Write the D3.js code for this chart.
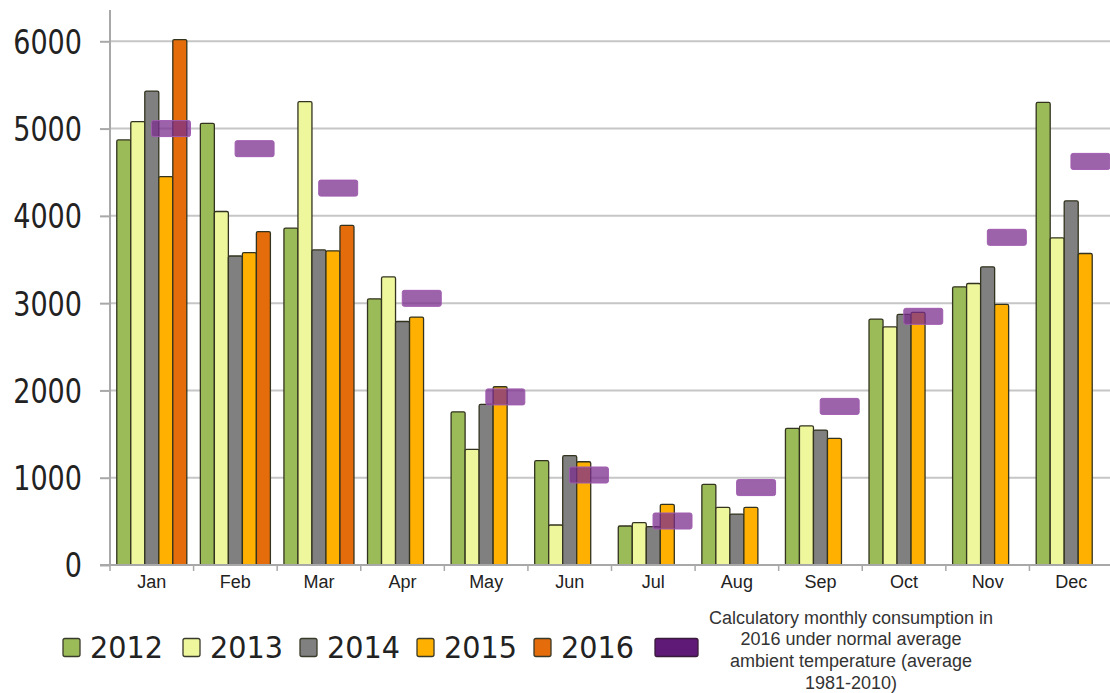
<!DOCTYPE html>
<html>
<head>
<meta charset="utf-8">
<script src="https://cdn.jsdelivr.net/npm/d3@7"></script>
<style>
  body { margin: 0; background: #fff; }
  svg { display: block; }
</style>
</head>
<body>
<div id="chart"></div>
<script>
var width = 1110;
var height = 693;

var months = ["Jan","Feb","Mar","Apr","May","Jun","Jul","Aug","Sep","Oct","Nov","Dec"];
var years = ["2012","2013","2014","2015","2016"];
var yTicks = [0,1000,2000,3000,4000,5000,6000];

var v2012 = [4870,5060,3860,3050,1755,1195,447,924,1565,2817,3187,5300];
var v2013 = [5080,4050,5310,3300,1325,458,485,661,1595,2729,3225,3748];
var v2014 = [5430,3540,3610,2790,1840,1252,440,584,1546,2871,3416,4172];
var v2015 = [4450,3580,3600,2840,2042,1183,695,661,1451,2894,2985,3569];
var v2016 = [6020,3820,3890,null,null,null,null,null,null,null,null,null];
var normal2016 = [5000,4770,4318,3055,1926,1031,504,887,1817,2849,3754,4624];

var legendNote = ["Calculatory monthly consumption in", "2016 under normal average",
                  "ambient temperature (average", "1981-2010)"];

var colors = {"2012":"#9bbb59","2013":"#eef79c","2014":"#808080","2015":"#ffb000","2016":"#e46c0a"};
var seriesByYear = {"2012":v2012,"2013":v2013,"2014":v2014,"2015":v2015,"2016":v2016};

var xScale = d3.scaleBand().domain(months).range([110, 1113]).padding(0);
var xInner = d3.scaleBand().domain(years)
    .range([xScale.bandwidth()*0.081, xScale.bandwidth()*0.919]).padding(0);
var yScale = d3.scaleLinear().domain([0,6000]).range([565, 41.3]);

var svg = d3.select("#chart").append("svg")
    .attr("width", width)
    .attr("height", height);

// gridlines
svg.append("g").selectAll("line")
    .data(yTicks.filter(function(d){ return d > 0; }))
    .enter().append("line")
      .attr("x1", 110).attr("x2", width)
      .attr("y1", function(d){ return yScale(d); })
      .attr("y2", function(d){ return yScale(d); })
      .attr("stroke", "#c6c6c6")
      .attr("stroke-width", 2);

// y axis
var yAxis = d3.axisLeft(yScale).tickValues(yTicks).tickFormat(d3.format("d"))
    .tickSize(10).tickSizeOuter(0);
var gy = svg.append("g")
    .attr("transform", "translate(110,0)")
    .call(yAxis);
gy.select(".domain").remove();
gy.selectAll(".tick line").attr("stroke", "#a8a8a8").attr("stroke-width", 2);
gy.selectAll(".tick text")
    .attr("font-family", "DejaVu Sans, Verdana, sans-serif")
    .attr("font-size", 33)
    .attr("fill", "#222")
    .attr("text-anchor", "end")
    .attr("x", -28/0.82)
    .attr("dy", "0.36em")
    .attr("transform", "scale(0.82,1)");
svg.append("line")
    .attr("x1", 110).attr("x2", 110)
    .attr("y1", 10).attr("y2", yScale(0))
    .attr("stroke", "#a8a8a8").attr("stroke-width", 2);

// bars
var groups = svg.append("g").selectAll("g")
    .data(months)
    .enter().append("g")
      .attr("transform", function(m){ return "translate(" + xScale(m) + ",0)"; });

groups.selectAll("rect")
    .data(function(m, i){
        return years.map(function(yr){ return {year: yr, value: seriesByYear[yr][i]}; })
                    .filter(function(d){ return d.value != null; });
    })
    .enter().append("rect")
      .attr("x", function(d){ return xInner(d.year); })
      .attr("width", xInner.bandwidth())
      .attr("y", function(d){ return yScale(d.value); })
      .attr("height", function(d){ return yScale(0) - yScale(d.value); })
      .attr("fill", function(d){ return colors[d.year]; })
      .attr("stroke", "#33331f")
      .attr("stroke-width", 1.3)
      .attr("rx", 1.5);

// normal-temperature markers
var markH = 16;
svg.append("g").selectAll("rect")
    .data(months)
    .enter().append("rect")
      .attr("x", function(m){ return xScale(m) + xScale.bandwidth()*0.73 - xScale.bandwidth()*0.233; })
      .attr("width", xScale.bandwidth()*0.466)
      .attr("y", function(m, i){ return yScale(normal2016[i]) - markH/2; })
      .attr("height", markH)
      .attr("rx", 2)
      .attr("fill", "#7b2d8e")
      .attr("fill-opacity", 0.75)
      .attr("stroke", "#a05cb0")
      .attr("stroke-width", 1);

// x axis
svg.append("line")
    .attr("x1", 100).attr("x2", width)
    .attr("y1", yScale(0)).attr("y2", yScale(0))
    .attr("stroke", "#a8a8a8").attr("stroke-width", 2);
svg.append("g").selectAll("line")
    .data(months)
    .enter().append("line")
      .attr("x1", function(m){ return xScale(m); })
      .attr("x2", function(m){ return xScale(m); })
      .attr("y1", yScale(0)).attr("y2", yScale(0) + 6)
      .attr("stroke", "#a8a8a8").attr("stroke-width", 1.5);

var xAxis = d3.axisBottom(xScale).tickSize(0).tickPadding(0);
var gx = svg.append("g")
    .attr("transform", "translate(0," + yScale(0) + ")")
    .call(xAxis);
gx.select(".domain").remove();
gx.selectAll(".tick text")
    .attr("font-family", "Liberation Sans, Arial, sans-serif")
    .attr("font-size", 18)
    .attr("fill", "#222")
    .attr("dy", null)
    .attr("y", 23);

// legend
var legend = svg.append("g");
var legX = [63, 183, 300, 417, 534];
years.forEach(function(yr, i){
    legend.append("rect")
        .attr("x", legX[i]).attr("y", 638.5)
        .attr("width", 17).attr("height", 18)
        .attr("rx", 2)
        .attr("fill", colors[yr])
        .attr("stroke", "#3a3a2a").attr("stroke-width", 1.3);
    legend.append("text")
        .attr("x", legX[i] + 27).attr("y", 658)
        .attr("font-family", "DejaVu Sans, Verdana, sans-serif")
        .attr("font-size", 30)
        .attr("fill", "#222")
        .attr("textLength", 73)
        .attr("lengthAdjust", "spacingAndGlyphs")
        .text(yr);
});
legend.append("rect")
    .attr("x", 655).attr("y", 638.5)
    .attr("width", 43).attr("height", 18)
    .attr("rx", 2)
    .attr("fill", "#5e1a76")
    .attr("stroke", "#3a1a3a").attr("stroke-width", 1.3);
legend.append("g").selectAll("text")
    .data(legendNote)
    .enter().append("text")
      .attr("x", 851)
      .attr("y", function(d, i){ return 623.5 + i*21.7; })
      .attr("text-anchor", "middle")
      .attr("font-family", "Liberation Sans, Arial, sans-serif")
      .attr("font-size", 18)
      .attr("fill", "#333")
      .text(function(d){ return d; });
</script>
</body>
</html>
